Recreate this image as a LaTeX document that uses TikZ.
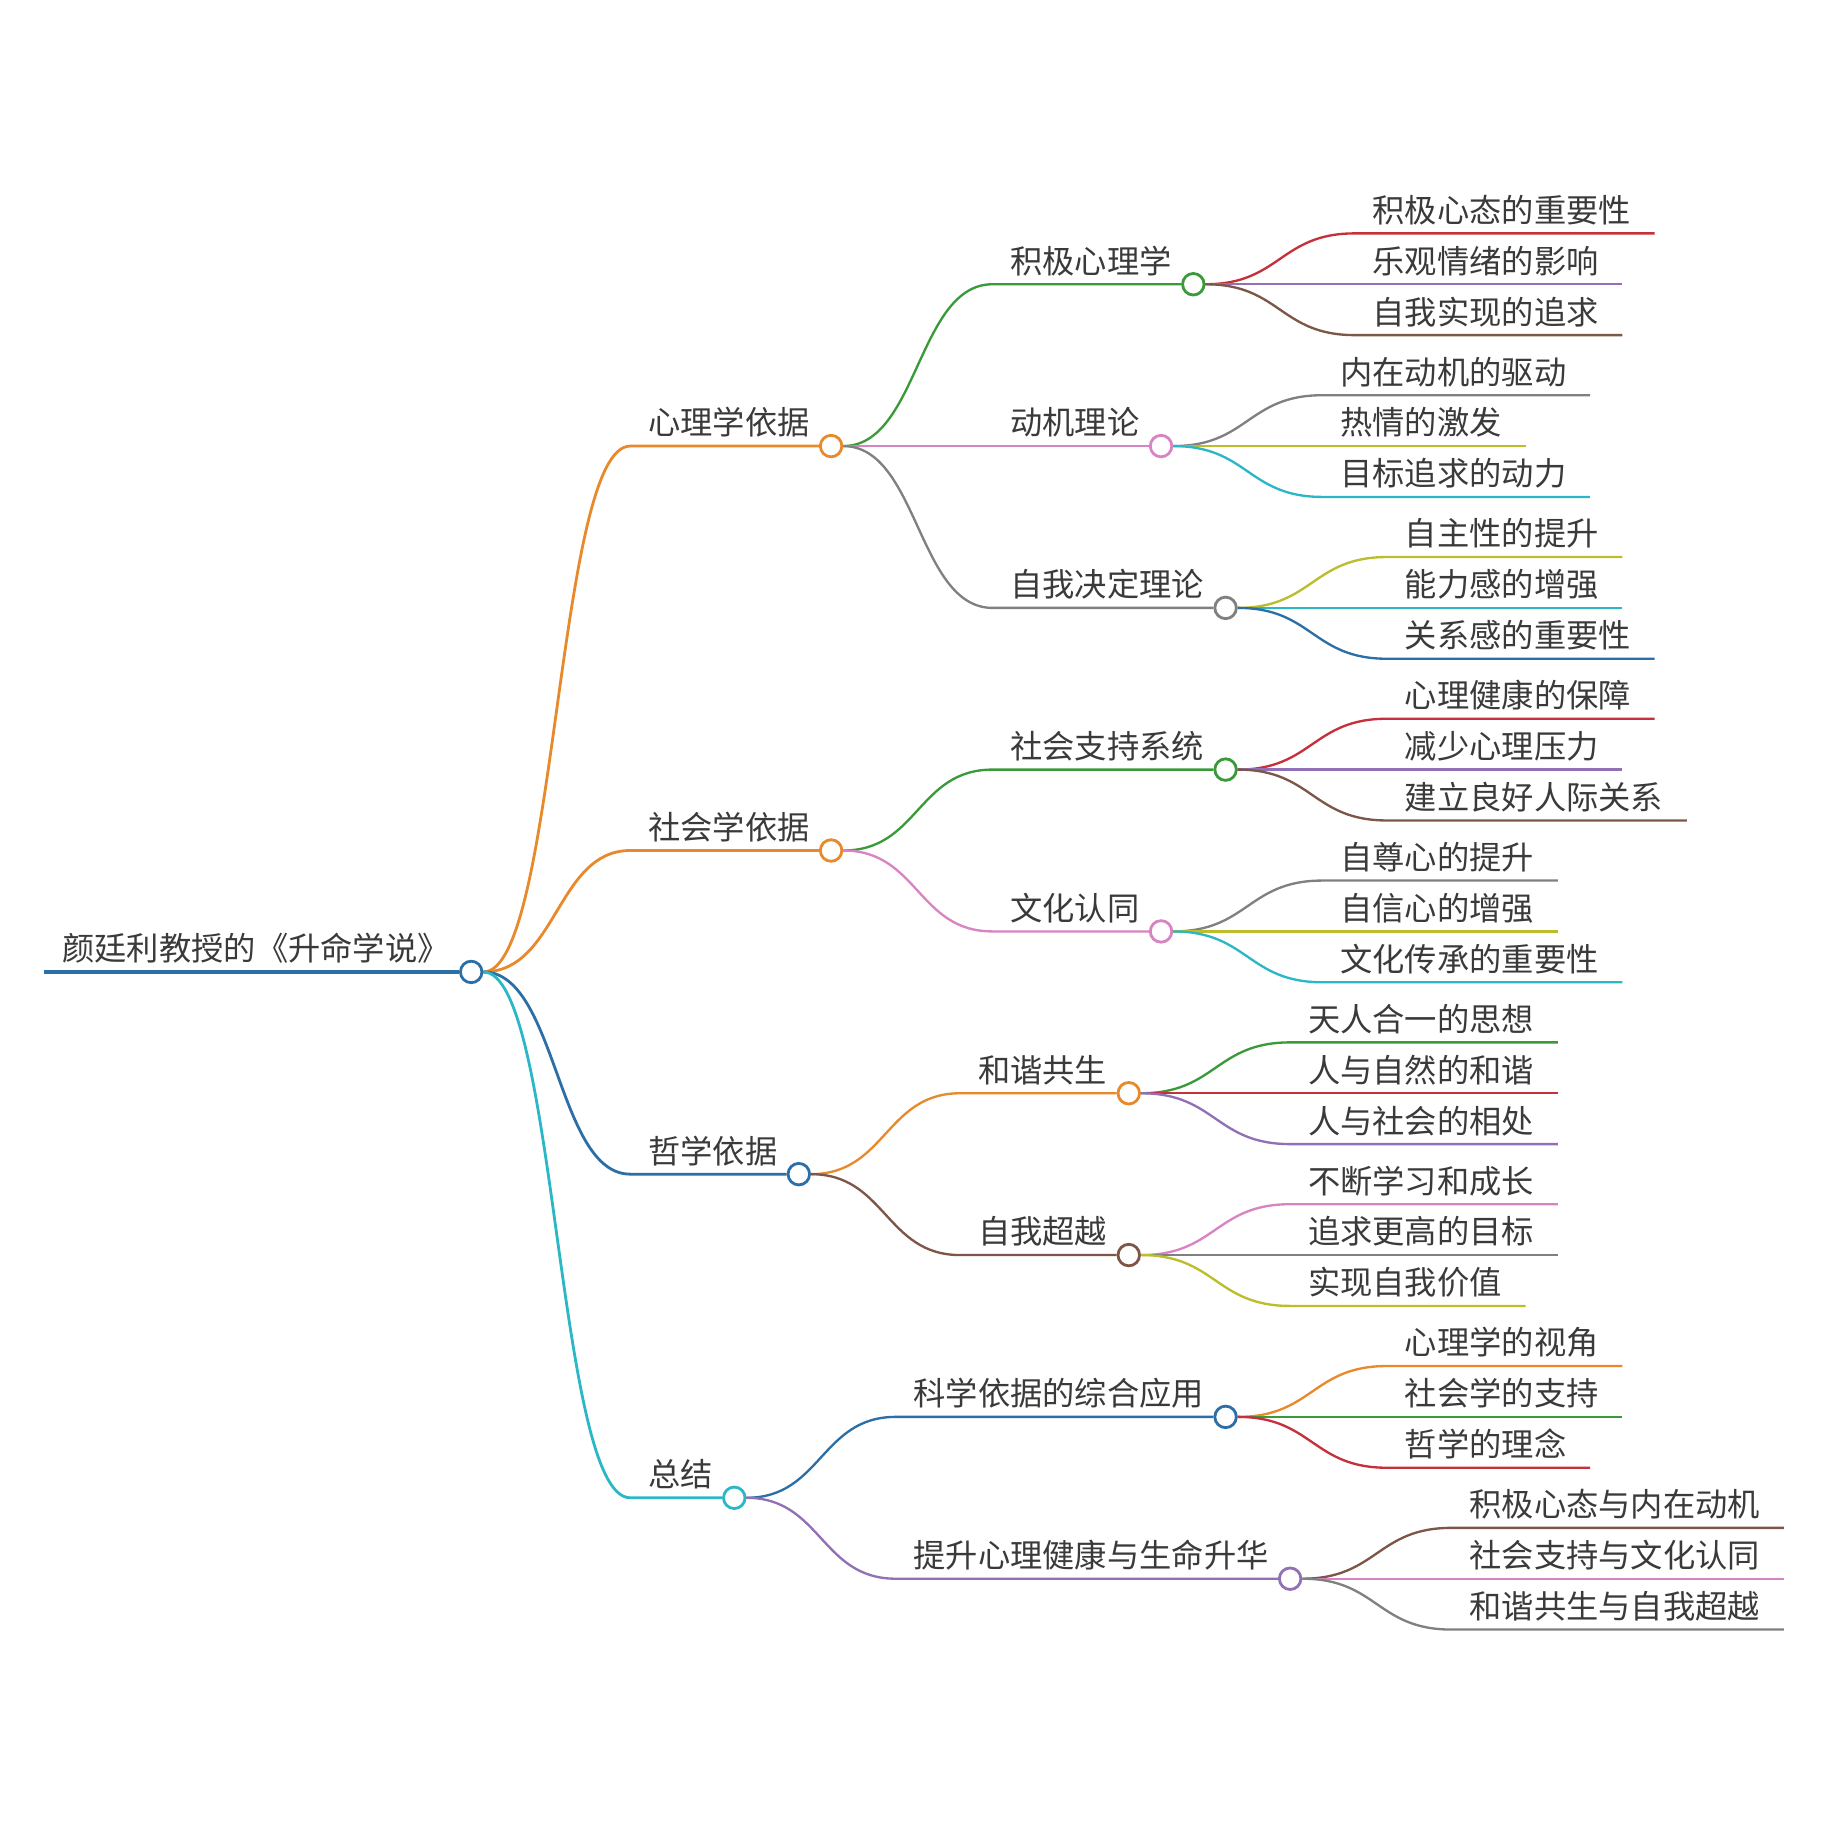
\documentclass[tikz,border=0pt]{standalone}
\usepackage{fontspec}
\newfontfamily\cjk{Noto Sans CJK SC}
\definecolor{inkgray}{HTML}{3A3A3A}
\definecolor{mmblue}{HTML}{2C6FA6}
\definecolor{mmorange}{HTML}{E8892B}
\definecolor{mmgreen}{HTML}{3A9A3A}
\definecolor{mmred}{HTML}{C5303A}
\definecolor{mmpurple}{HTML}{9170B6}
\definecolor{mmbrown}{HTML}{7E5648}
\definecolor{mmpink}{HTML}{D984C2}
\definecolor{mmgray}{HTML}{808080}
\definecolor{mmolive}{HTML}{BBBD2A}
\definecolor{mmcyan}{HTML}{2BB7C6}
\tikzset{
	% ------- every something
	every node/.style={
		font=\cjk\fontsize{13.8pt}{16pt}\selectfont,
		text=inkgray,
	},
	% ------- custom
	label/.style={
		anchor=base west,
		inner sep=0pt,
	},
	knot/.style={
		circle, draw=#1, fill=white,
		line width=1.2pt,
		minimum size=9.2pt, inner sep=0pt,
	},
	trunk/.style={
		line width=1.4pt,
	},
	limb/.style={
		line width=1.2pt,
	},
	twig/.style={
		line width=1pt,
	},
}

\begin{document}
\begin{tikzpicture}[x=0.5pt, y=-0.5pt]

% frame %{{{1

	\useasboundingbox (0,0) rectangle (1560,1560);

% root %{{{1

	\coordinate (s0) at (38,831.25);
	\node[label] (t0) at ([shift={(15,-9.5)}]s0) {颜廷利教授的《升命学说》};
	\path (t0.base east |- s0) ++(18,0) node[knot=mmblue] (k0) {};
	\draw[trunk, mmblue] (s0) -- (k0.west);

% first level %{{{1

	\foreach \c/\dy/\col/\txt in {
		A/-449.75/mmorange/心理学依据,
		B/-103.85/mmorange/社会学依据,
		C/172.95/mmblue/哲学依据,
		D/449.75/mmcyan/总结%
	}{
		\path (k0) ++(136,\dy) coordinate (s\c);
		\node[label] (t\c) at ([shift={(15,-9.5)}]s\c) {\txt};
		\path (t\c.base east |- s\c) ++(18,0) node[knot=\col] (k\c) {};
		\draw[limb, \col] (k0.east) .. controls +(63,0) and +(-63,0) .. (s\c) -- (k\c.west);
	}

% second level %{{{1

	\foreach \p/\c/\dy/\col/\txt in {
		A/A1/-138.4/mmgreen/积极心理学,
		A/A2/0/mmpink/动机理论,
		A/A3/138.4/mmgray/自我决定理论,
		B/B1/-69.2/mmgreen/社会支持系统,
		B/B2/69.2/mmpink/文化认同,
		C/C1/-69.2/mmorange/和谐共生,
		C/C2/69.2/mmbrown/自我超越,
		D/D1/-69.2/mmblue/科学依据的综合应用,
		D/D2/69.2/mmpurple/提升心理健康与生命升华%
	}{
		\path (k\p) ++(138,\dy) coordinate (s\c);
		\node[label] (t\c) at ([shift={(15,-9.5)}]s\c) {\txt};
		\path (t\c.base east |- s\c) ++(18,0) node[knot=\col] (k\c) {};
		\draw[twig, \col] (k\p.east) .. controls +(64,0) and +(-64,0) .. (s\c) -- (k\c.west);
	}

% leaves %{{{1

	\foreach \p/\dy/\col/\txt [count=\i] in {
		A1/-43.5/mmred/积极心态的重要性,
		A1/0/mmpurple/乐观情绪的影响,
		A1/43.5/mmbrown/自我实现的追求,
		A2/-43.5/mmgray/内在动机的驱动,
		A2/0/mmolive/热情的激发,
		A2/43.5/mmcyan/目标追求的动力,
		A3/-43.5/mmolive/自主性的提升,
		A3/0/mmcyan/能力感的增强,
		A3/43.5/mmblue/关系感的重要性,
		B1/-43.5/mmred/心理健康的保障,
		B1/0/mmpurple/减少心理压力,
		B1/43.5/mmbrown/建立良好人际关系,
		B2/-43.5/mmgray/自尊心的提升,
		B2/0/mmolive/自信心的增强,
		B2/43.5/mmcyan/文化传承的重要性,
		C1/-43.5/mmgreen/天人合一的思想,
		C1/0/mmred/人与自然的和谐,
		C1/43.5/mmpurple/人与社会的相处,
		C2/-43.5/mmpink/不断学习和成长,
		C2/0/mmgray/追求更高的目标,
		C2/43.5/mmolive/实现自我价值,
		D1/-43.5/mmorange/心理学的视角,
		D1/0/mmgreen/社会学的支持,
		D1/43.5/mmred/哲学的理念,
		D2/-43.5/mmbrown/积极心态与内在动机,
		D2/0/mmpink/社会支持与文化认同,
		D2/43.5/mmgray/和谐共生与自我超越%
	}{
		\path (k\p) ++(138,\dy) coordinate (l\i);
		\node[label] (n\i) at ([shift={(15,-9.5)}]l\i) {\txt};
		\draw[twig, \col] (k\p.east) .. controls +(64,0) and +(-64,0) .. (l\i) -- (n\i.base east |- l\i) -- ++(20,0);
	}

% closing %{{{1

\end{tikzpicture}
\end{document}
